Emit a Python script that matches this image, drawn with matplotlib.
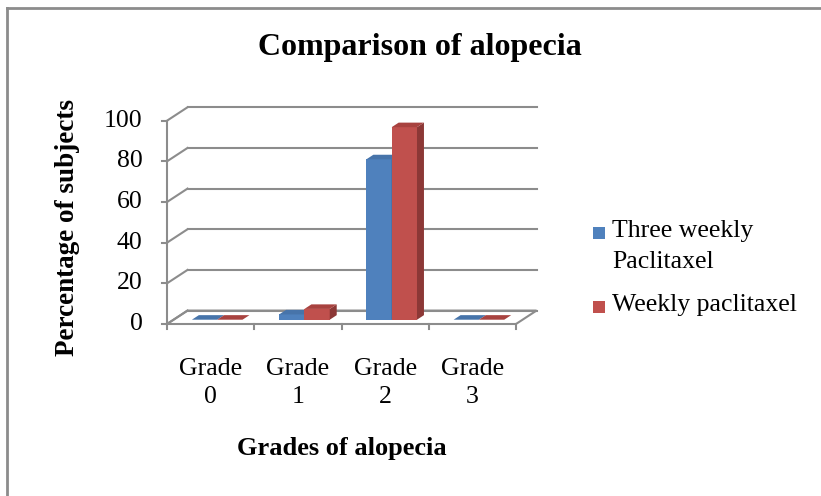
import matplotlib
matplotlib.use("Agg")
import matplotlib.pyplot as plt
from matplotlib.patches import Polygon, Rectangle
from matplotlib.lines import Line2D

plt.rcParams['font.family'] = ['Liberation Serif', 'DejaVu Serif']

categories = ["Grade\n0", "Grade\n1", "Grade\n2", "Grade\n3"]
series_names = ["Three weekly\nPaclitaxel", "Weekly paclitaxel"]
three_weekly = [0, 2.6, 78.9, 0]
weekly = [0, 5.3, 94.7, 0]
yticks = [0, 20, 40, 60, 80, 100]

front_cols = ["#4f81bd", "#c0504d"]
side_cols = ["#385d8a", "#8c3836"]
top_cols = ["#4774aa", "#a8423f"]
grid_col = "#8c8c8c"

W, H = 821, 496
fig = plt.figure(figsize=(W / 100, H / 100), dpi=100)
ax = fig.add_axes([167 / W, 1 - 324 / H, (516 - 167) / W, (324 - 120.7) / H])
n = len(categories)
ax.set_xlim(0, n)
ax.set_ylim(0, 100)
ax.axis('off')

DX = 0.235   # depth shift in x units
DY = 6.6     # depth shift in y units

# floor
floor = Polygon([(0, 0), (n, 0), (n + DX, DY), (DX, DY)], closed=True,
                facecolor='white', edgecolor=grid_col, lw=1.5, clip_on=False, zorder=1)
ax.add_patch(floor)
# back-wall gridlines + side-wall diagonals
for v in yticks:
    ax.plot([DX, n + DX], [v + DY, v + DY], color=grid_col, lw=1.5, clip_on=False, zorder=1)
    ax.plot([0, DX], [v, v + DY], color=grid_col, lw=1.5, clip_on=False, zorder=1)
    ax.plot([-0.06, 0], [v, v], color=grid_col, lw=1.5, clip_on=False, zorder=1)
    ax.text(-0.28, v, str(v), ha='right', va='center', fontsize=18.5)
# front vertical axis
ax.plot([0, 0], [0, 100], color=grid_col, lw=1.5, clip_on=False, zorder=1)
# category ticks
for j in range(n + 1):
    ax.plot([j, j], [0, -2.5], color=grid_col, lw=1.5, clip_on=False, zorder=1)
for j, lab in enumerate(categories):
    ax.text(j + 0.5, -16.5, lab, ha='center', va='top', fontsize=18.5, linespacing=1.4)

# bars (pseudo-3D)
f0, f1 = 0.32, 0.66
bw = 0.29
z = 3
for j in range(n):
    for i, vals in enumerate([three_weekly, weekly]):
        v = vals[j]
        x0 = j + 0.5 + (i - 1) * bw + f0 * DX
        b0 = f0 * DY
        ax.bar(x0, v, width=bw, bottom=b0, align='edge', color=front_cols[i],
               edgecolor='none', zorder=z, clip_on=False)
        ddx = (f1 - f0) * DX
        ddy = (f1 - f0) * DY
        top = Polygon([(x0, b0 + v), (x0 + bw, b0 + v), (x0 + bw + ddx, b0 + v + ddy),
                       (x0 + ddx, b0 + v + ddy)], closed=True, facecolor=top_cols[i],
                      edgecolor='none', zorder=z, clip_on=False)
        side = Polygon([(x0 + bw, b0), (x0 + bw, b0 + v), (x0 + bw + ddx, b0 + v + ddy),
                        (x0 + bw + ddx, b0 + ddy)], closed=True, facecolor=side_cols[i],
                       edgecolor='none', zorder=z, clip_on=False)
        ax.add_patch(side)
        ax.add_patch(top)
        z += 1

# titles
fig.text(420 / W, 1 - 47 / H, "Comparison of alopecia", ha='center', va='center',
         fontsize=23, fontweight='bold')
fig.text(342 / W, 1 - 448 / H, "Grades of alopecia", ha='center', va='center',
         fontsize=19, fontweight='bold')
fig.text(68 / W, 1 - 228 / H, "Percentage of subjects", ha='center', va='center',
         fontsize=19.5, fontweight='bold', rotation=90)

# legend (manual)
leg_y = [233, 307]
for i, name in enumerate(series_names):
    cy = leg_y[i]
    fig.patches.append(Rectangle((593 / W, 1 - (cy + 6) / H), 12 / W, 12 / H,
                                 transform=fig.transFigure, facecolor=front_cols[i],
                                 edgecolor='none'))
    fig.text(612 / W, 1 - (cy - 13) / H, name, ha='left', va='top', fontsize=18.5,
             linespacing=1.5)

# outer frame
fig.add_artist(Line2D([7 / W, 7 / W], [0, 1 - 8 / H], color=grid_col, lw=2,
                      transform=fig.transFigure))
fig.add_artist(Line2D([7 / W, 1], [1 - 8 / H, 1 - 8 / H], color=grid_col, lw=2,
                      transform=fig.transFigure))

fig.savefig("out.png", dpi=100)
